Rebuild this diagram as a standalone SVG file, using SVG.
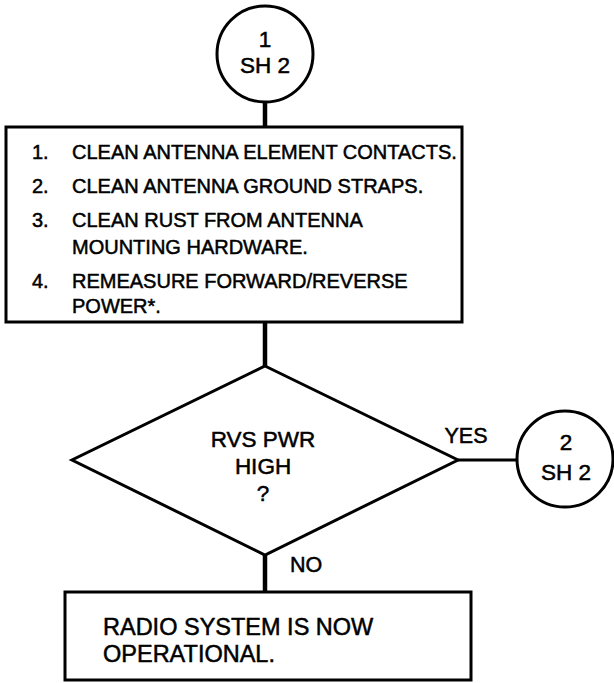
<svg xmlns="http://www.w3.org/2000/svg" width="614" height="683" viewBox="0 0 614 683">
<style>
.s{fill:#fff;stroke:#000;stroke-width:3}
.c{fill:none;stroke:#000;stroke-width:3}
.v{stroke-width:4.5}
text{font-family:"Liberation Sans",Arial,sans-serif;fill:#000;stroke:#000;stroke-width:0.5}
.t{font-size:20px}
.k{font-size:22.5px}
.m{text-anchor:middle}
.b{font-size:23.5px}
</style>
<g id="connectors">
<line class="c v" x1="265" y1="102" x2="265" y2="127"/>
<line class="c v" x1="265" y1="322" x2="265" y2="366"/>
<line class="c" x1="458" y1="460" x2="518" y2="460"/>
<line class="c v" x1="265" y1="555" x2="265" y2="592"/>
<text class="m" style="font-size:21.5px" x="466" y="443">YES</text>
<text style="font-size:21.5px" x="290" y="572">NO</text>
</g>
<g id="conn1">
<circle class="s" cx="265" cy="54" r="48"/>
<text class="k m" x="265" y="47">1</text>
<text class="k m" x="265" y="73">SH 2</text>
</g>
<g id="steps">
<rect class="s" x="6" y="127" width="456" height="195"/>
<text class="t" x="32" y="159">1.</text><text class="t" x="72" y="159">CLEAN ANTENNA ELEMENT CONTACTS.</text>
<text class="t" x="32" y="193">2.</text><text class="t" x="72" y="193">CLEAN ANTENNA GROUND STRAPS.</text>
<text class="t" x="32" y="227">3.</text><text class="t" x="72" y="227">CLEAN RUST FROM ANTENNA</text>
<text class="t" x="72" y="254">MOUNTING HARDWARE.</text>
<text class="t" x="32" y="288">4.</text><text class="t" x="72" y="288">REMEASURE FORWARD/REVERSE</text>
<text class="t" x="72" y="313">POWER*.</text>
</g>
<g id="decision">
<polygon class="s" points="265,366 458,460 265,555 72,460"/>
<text class="k m" x="263" y="447">RVS PWR</text>
<text class="k m" x="263" y="474">HIGH</text>
<text class="k m" x="263" y="501">?</text>
</g>
<g id="conn2">
<circle class="s" cx="565" cy="459" r="48"/>
<text class="k m" x="566" y="450">2</text>
<text class="k m" x="566" y="480">SH 2</text>
</g>
<g id="done">
<rect class="s" x="65" y="592" width="406" height="88"/>
<text class="b" x="103" y="635">RADIO SYSTEM IS NOW</text>
<text class="b" x="103" y="662">OPERATIONAL.</text>
</g>
</svg>
